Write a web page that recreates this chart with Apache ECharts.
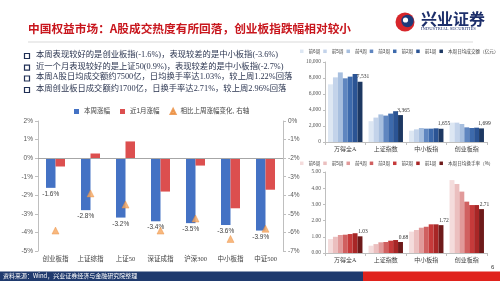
<!DOCTYPE html>
<html><head><meta charset="utf-8">
<script src="https://cdn.jsdelivr.net/npm/echarts@6/dist/echarts.min.js"></script>
<style>html,body{margin:0;padding:0;background:#fff}#c{width:500px;height:281px}</style>
</head><body><div id="c"></div>
<script>
// ---- data ----
const titleText = '中国权益市场：A股成交热度有所回落，创业板指跌幅相对较小';
const bullets = [
  '本周表现较好的是创业板指(-1.6%)，表现较差的是中小板指(-3.6%)',
  '近一个月表现较好的是上证50(0.9%)，表现较差的是中小板指(-2.7%)',
  '本周A股日均成交额约7500亿，日均换手率达1.03%，较上周1.22%回落',
  '本周创业板日成交额约1700亿，日换手率达2.71%，较上周2.96%回落'
];
const leftCats = ['创业板指','上证综指','上证50','深证成指','沪深300','中小板指','中证500'];
const weekChg = [-1.6,-2.8,-3.2,-3.4,-3.5,-3.6,-3.9];
const monthChg = [-0.45,0.25,0.9,-1.8,-0.4,-2.7,-1.7];
const chgVsLastWeek = [-5.9,-3.9,-4.5,-5.9,-5.25,-6.35,-5.8];
const leftNames = ['本周涨幅','近1月涨幅','相比上周涨幅变化, 右轴'];

const rightCats = ['万得全A','上证指数','中小板指','创业板指'];
const weekNames = ['前6周','前5周','前4周','前3周','前2周','前1周'];
const amtLastName = '本周日均成交额（亿元）';
const turnLastName = '本周日均换手率（%）';
const amtW6 = [7210,2600,1420,2420];
const amtW5 = [8080,3050,1580,2420];
const amtW4 = [8700,3450,1750,2250];
const amtW3 = [7960,3300,1670,1830];
const amtW2 = [8170,3550,1670,1750];
const amtW1 = [8500,3850,1710,1790];
const amtW0 = [7531,3365,1655,1699];
const turnW6 = [0.86,0.45,1.32,4.50];
const turnW5 = [1.00,0.55,1.42,4.26];
const turnW4 = [1.11,0.66,1.56,3.79];
const turnW3 = [1.13,0.68,1.62,3.17];
const turnW2 = [1.17,0.76,1.77,2.96];
const turnW1 = [1.22,0.80,1.77,2.96];
const turnW0 = [1.03,0.68,1.72,2.71];
const sourceText = '资料来源：Wind，兴业证券经济与金融研究院整理';

// ---- styles ----
const blues = ['#dde7f3','#c3d3ea','#a7bfdf','#5f86c0','#3d6aac','#2b5494','#1d3862'];
const reds = ['#f4dcdc','#ebbfbf','#e19a9a','#d06060','#c63a3a','#a82626','#6e1a1a'];
const SANS = 'Liberation Sans, Noto Sans CJK SC, sans-serif';
const SERIF = 'Liberation Serif, Noto Sans CJK SC, serif';
const axisGray = '#bfbfbf';
const labGray = '#595959';
const fmtThousand = v => String(v).replace(/\B(?=(\d{3})+(?!\d))/g, ',');

const amtSets = [amtW6,amtW5,amtW4,amtW3,amtW2,amtW1,amtW0];
const turnSets = [turnW6,turnW5,turnW4,turnW3,turnW2,turnW1,turnW0];
const amtNames = weekNames.concat([amtLastName]);
const turnNames = weekNames.map(n => n + '\u200b').concat([turnLastName]);

const series = [];
series.push({
  type:'bar', name:leftNames[0], xAxisIndex:0, yAxisIndex:0, data:weekChg,
  barWidth:9.5, barGap:'0%', itemStyle:{color:'#4472c4'},
  label:{show:true, position:'bottom', distance:3, fontSize:6.5, color:'#404040', fontFamily:SANS,
    formatter:p => p.value.toFixed(1) + '%'},
  markLine:{silent:true, symbol:'none', label:{show:false}, lineStyle:{color:'#a6a6a6', width:1, type:'solid'},
    data:[{yAxis:0}], animation:false}
});
series.push({type:'bar', name:leftNames[1], xAxisIndex:0, yAxisIndex:0, data:monthChg,
  barWidth:9.5, barGap:'0%', itemStyle:{color:'#dc4f4f'}});
series.push({type:'scatter', name:leftNames[2], xAxisIndex:0, yAxisIndex:1, data:chgVsLastWeek,
  symbol:'triangle', symbolSize:7, itemStyle:{color:'#f6a65e', borderColor:'#e8893a', borderWidth:0.5}});

amtSets.forEach((d,i) => {
  const s = {type:'bar', name:amtNames[i], xAxisIndex:1, yAxisIndex:2, data:d,
    barGap:'0%', barCategoryGap:'15%', itemStyle:{color:blues[i]}};
  if (i === 6) s.label = {show:true, position:'top', distance:2, offset:[3,0], fontSize:5.5, color:'#333', fontFamily:SERIF,
    formatter:p => fmtThousand(p.value)};
  series.push(s);
});
turnSets.forEach((d,i) => {
  const s = {type:'bar', name:turnNames[i], xAxisIndex:2, yAxisIndex:3, data:d,
    barGap:'0%', barCategoryGap:'15%', itemStyle:{color:reds[i]}};
  if (i === 6) s.label = {show:true, position:'top', distance:2, offset:[3,0], fontSize:5.5, color:'#333', fontFamily:SERIF,
    formatter:p => p.value.toFixed(2)};
  series.push(s);
});

const graphic = [];
// title
graphic.push({type:'text', left:28, top:23, style:{text:titleText, fill:'#c8161d', font:'bold 11.7px Noto Sans CJK SC'}});
graphic.push({type:'line', shape:{x1:28, y1:42, x2:473, y2:42}, style:{stroke:'#d9d9d9', lineWidth:1}});
// logo
graphic.push({type:'circle', shape:{cx:405, cy:22, r:9.5}, style:{fill:'#d7262b'}});
graphic.push({type:'circle', shape:{cx:407.5, cy:21, r:6.2}, style:{fill:'#1d3a7a'}});
graphic.push({type:'circle', shape:{cx:405.5, cy:20, r:2.6}, style:{fill:'#fff'}});
graphic.push({type:'text', left:421, top:11, style:{text:'兴业证券', fill:'#1d2f6b', font:'bold 16px Noto Sans CJK SC'}});
graphic.push({type:'text', left:421, top:26, style:{text:'INDUSTRIAL SECURITIES', fill:'#1d2f6b', font:'4.6px Liberation Serif'}});
// bullets
const bulletY = [56, 67.7, 78.5, 90];
bullets.forEach((t,i) => {
  graphic.push({type:'rect', shape:{x:24.5, y:bulletY[i]-2.5, width:5, height:5}, style:{fill:'#fff', stroke:'#1f2f55', lineWidth:1.2}});
  graphic.push({type:'text', left:36, top:bulletY[i]-5.5, style:{text:t, fill:'#2b3550', font:'8.3px Liberation Serif, Noto Sans CJK SC'}});
});
// footer
graphic.push({type:'rect', shape:{x:0, y:271.5, width:363, height:9.5}, style:{fill:'#1f3a6e'}});
graphic.push({type:'rect', shape:{x:363, y:271.5, width:137, height:9.5}, style:{fill:'#e0221c'}});
graphic.push({type:'text', left:3, top:272.5, style:{text:sourceText, fill:'#fff', font:'6px Noto Sans CJK SC'}});
graphic.push({type:'text', left:491, top:264, style:{text:'6', fill:'#333', font:'6px Liberation Sans'}});

const rightCatAxis = gi => ({type:'category', gridIndex:gi, data:rightCats,
  axisLine:{lineStyle:{color:axisGray}}, axisTick:{show:true, length:3, lineStyle:{color:axisGray}},
  axisLabel:{fontSize:6, color:'#404040', fontFamily:SERIF, margin:4, interval:0}});

const smallLegend = (top, names) => ({left:300, top:top, width:260, padding:0, itemWidth:3.5, itemHeight:3.5, itemGap:3,
  textStyle:{fontSize:4.6, color:'#404040'}, data:names.map(n => ({name:n, icon:'rect'}))});

const option = {
  animation:false,
  backgroundColor:'#fff',
  textStyle:{fontFamily:SANS},
  grid:[
    {left:38, right:217, top:121, bottom:30},
    {left:325, right:13, top:62, bottom:139},
    {left:325, right:13, top:172, bottom:28}
  ],
  legend:[
    {left:74, top:108, padding:0, itemWidth:5, itemHeight:5, itemGap:10,
      textStyle:{fontSize:6.5, color:'#404040'},
      data:[{name:leftNames[0], icon:'rect'},{name:leftNames[1], icon:'rect'},{name:leftNames[2], icon:'triangle'}]},
    smallLegend(49, amtNames),
    smallLegend(161, turnNames)
  ],
  xAxis:[
    {type:'category', gridIndex:0, data:leftCats, position:'bottom',
      axisLine:{show:false, onZero:false}, axisTick:{show:false},
      axisLabel:{fontSize:6.5, color:'#404040', fontFamily:SERIF, margin:5, interval:0}},
    rightCatAxis(1),
    rightCatAxis(2)
  ],
  yAxis:[
    {type:'value', gridIndex:0, min:-5, max:2, interval:1, position:'left',
      axisLine:{show:true, lineStyle:{color:axisGray}}, axisTick:{show:true, length:3, lineStyle:{color:axisGray}},
      splitLine:{show:false}, axisLabel:{fontSize:6.5, color:labGray, formatter:'{value}%', margin:5}},
    {type:'value', gridIndex:0, min:-7, max:0, interval:1, position:'right',
      axisLine:{show:true, lineStyle:{color:axisGray}}, axisTick:{show:true, length:3, lineStyle:{color:axisGray}},
      splitLine:{show:false}, axisLabel:{fontSize:6.5, color:labGray, formatter:'{value}%', margin:5}},
    {type:'value', gridIndex:1, min:0, max:10000, interval:2000,
      axisLine:{show:true, lineStyle:{color:axisGray}}, axisTick:{show:true, length:2, lineStyle:{color:axisGray}},
      splitLine:{show:false}, axisLabel:{fontSize:5.5, color:labGray, fontFamily:SERIF, margin:4, formatter:v => fmtThousand(v)}},
    {type:'value', gridIndex:2, min:0, max:5, interval:1,
      axisLine:{show:true, lineStyle:{color:axisGray}}, axisTick:{show:true, length:2, lineStyle:{color:axisGray}},
      splitLine:{show:false}, axisLabel:{fontSize:5.5, color:labGray, fontFamily:SERIF, margin:4, formatter:v => v.toFixed(2)}}
  ],
  series:series,
  graphic:graphic
};
const chart = echarts.init(document.getElementById('c'), null, {renderer:'canvas'});
chart.setOption(option);
</script>
</body></html>
